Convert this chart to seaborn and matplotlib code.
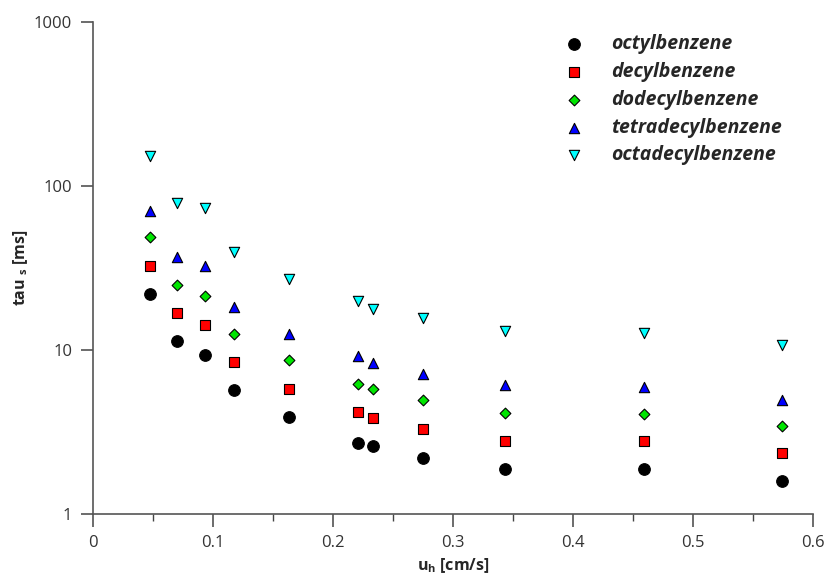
import matplotlib
matplotlib.use("Agg")
import matplotlib.pyplot as plt
import seaborn as sns
import pandas as pd
from matplotlib.ticker import FixedLocator, MultipleLocator, NullLocator, FormatStrFormatter

# ----------------------- Data -----------------------
u_h = [0.047, 0.070, 0.093, 0.117, 0.163, 0.221, 0.233, 0.275, 0.343, 0.459, 0.574]

octyl = [22.1, 11.3, 9.3, 5.7, 3.93, 2.73, 2.61, 2.21, 1.88, 1.88, 1.59]
decyl = [32.6, 16.9, 14.2, 8.44, 5.8, 4.17, 3.87, 3.32, 2.79, 2.78, 2.36]
dodecyl = [48.9, 25.1, 21.5, 12.6, 8.68, 6.21, 5.77, 4.98, 4.15, 4.07, 3.45]
tetradecyl = [71.0, 36.8, 32.4, 18.3, 12.5, 9.15, 8.32, 7.16, 6.10, 5.98, 5.0]
octadecyl = [153.0, 78.7, 73.3, 39.5, 27.3, 20.0, 17.9, 15.6, 13.1, 12.8, 10.8]

names = ["octylbenzene", "decylbenzene", "dodecylbenzene",
         "tetradecylbenzene", "octadecylbenzene"]
series = [octyl, decyl, dodecyl, tetradecyl, octadecyl]
colors = ["#000000", "#ff0000", "#00e600", "#0000ff", "#00ffff"]
markers = ["o", "s", "D", "^", "v"]
sizes = [70, 62, 30, 55, 55]

df = pd.DataFrame({
    "u_h": u_h * len(names),
    "tau": sum(series, []),
    "compound": [n for n in names for _ in u_h],
})

# ----------------------- Plot -----------------------
sns.set_style("ticks")
plt.rcParams["font.family"] = ["Open Sans", "DejaVu Sans"]
plt.rcParams["mathtext.fontset"] = "custom"
plt.rcParams["mathtext.rm"] = "Open Sans"
plt.rcParams["mathtext.bf"] = "Open Sans:bold"

fig = plt.figure(figsize=(8.24, 5.81), dpi=100)
ax = fig.add_axes([0.113, 0.115, 0.874, 0.847])

for name, col, mk, sz in zip(names, colors, markers, sizes):
    sub = df[df["compound"] == name]
    sns.scatterplot(data=sub, x="u_h", y="tau", ax=ax, color=col, marker=mk,
                    s=sz, edgecolor="black", linewidth=0.8, label=name, zorder=3)

ax.set_yscale("log")
ax.set_xlim(0, 0.6)
ax.set_ylim(1, 1000)
ax.xaxis.set_major_locator(MultipleLocator(0.1))
ax.xaxis.set_minor_locator(MultipleLocator(0.05))
ax.xaxis.set_major_formatter(FormatStrFormatter("%g"))
ax.yaxis.set_major_locator(FixedLocator([1, 10, 100, 1000]))
ax.yaxis.set_minor_locator(NullLocator())
ax.yaxis.set_major_formatter(FormatStrFormatter("%g"))

for side in ["top", "right"]:
    ax.spines[side].set_visible(False)
for side in ["left", "bottom"]:
    ax.spines[side].set_color("#555555")
    ax.spines[side].set_linewidth(1.2)

ax.tick_params(axis="both", which="major", direction="out", length=9, width=1.1,
               color="#444444", labelsize=12, labelcolor="#333333", pad=6)
ax.tick_params(axis="x", which="minor", direction="out", length=5, width=1.0,
               color="#444444")

ax.set_xlabel(r"u$_\mathbf{h}$ [cm/s]", fontsize=11.5, fontweight="bold", labelpad=4)
ax.set_ylabel(r"tau $_\mathbf{s}$ [ms]", fontsize=11.5, fontweight="bold", labelpad=3)

leg = ax.legend(loc="upper left", bbox_to_anchor=(0.641, 0.975), frameon=False,
                prop={"style": "italic", "weight": "bold", "size": 14},
                handletextpad=0.9, labelspacing=0.4, borderaxespad=0, borderpad=0)

fig.savefig("out.png", dpi=100)
